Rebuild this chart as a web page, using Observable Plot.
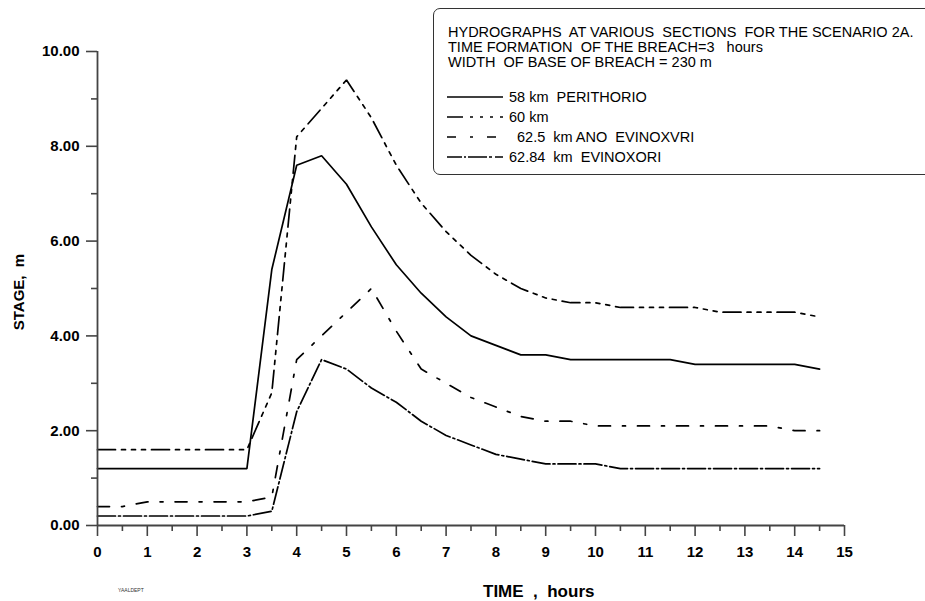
<!DOCTYPE html>
<html><head><meta charset="utf-8">
<script src="https://cdn.jsdelivr.net/npm/d3@7"></script>
<script src="https://cdn.jsdelivr.net/npm/@observablehq/plot@0.6"></script>
<style>
body{margin:0;background:#fff;overflow:hidden;font-family:"Liberation Sans",Arial,sans-serif;}
#wrap{position:relative;width:925px;height:601px;overflow:hidden;background:#fff;}
.t{position:absolute;white-space:pre;color:#000;line-height:1;}
.b{font-weight:bold;}
#box{position:absolute;left:433px;top:8px;width:520px;height:165px;border:1.5px solid #333;border-radius:7px;}
.smp{position:absolute;left:447px;width:56px;height:10px;}
</style></head><body><div id="wrap"></div>
<script>
// ---- data ----
const hours = [0,0.5,1,1.5,2,2.5,3,3.5,4,4.5,5,5.5,6,6.5,7,7.5,8,8.5,9,9.5,10,10.5,11,11.5,12,12.5,13,13.5,14,14.5];
const stage58 = [1.2,1.2,1.2,1.2,1.2,1.2,1.2,5.4,7.6,7.8,7.2,6.3,5.5,4.9,4.4,4.0,3.8,3.6,3.6,3.5,3.5,3.5,3.5,3.5,3.4,3.4,3.4,3.4,3.4,3.3];
const stage60 = [1.6,1.6,1.6,1.6,1.6,1.6,1.6,2.8,8.2,8.8,9.4,8.6,7.6,6.8,6.2,5.7,5.3,5.0,4.8,4.7,4.7,4.6,4.6,4.6,4.6,4.5,4.5,4.5,4.5,4.4];
const stage625 = [0.4,0.4,0.5,0.5,0.5,0.5,0.5,0.6,3.5,4.0,4.5,5.0,4.1,3.3,3.0,2.7,2.5,2.3,2.2,2.2,2.1,2.1,2.1,2.1,2.1,2.1,2.1,2.1,2.0,2.0];
const stage6284 = [0.2,0.2,0.2,0.2,0.2,0.2,0.2,0.3,2.4,3.5,3.3,2.9,2.6,2.2,1.9,1.7,1.5,1.4,1.3,1.3,1.3,1.2,1.2,1.2,1.2,1.2,1.2,1.2,1.2,1.2];
const seriesNames = ["58 km  PERITHORIO","60 km","62.5  km ANO  EVINOXVRI","62.84  km  EVINOXORI"];
const yTicks = [0,2,4,6,8,10];
const yMinor = [1,3,5,7,9];
const xTicks = [0,1,2,3,4,5,6,7,8,9,10,11,12,13,14,15];
const xMinor = [0.5,1.5,2.5,3.5,4.5,5.5,6.5,7.5,8.5,9.5,10.5,11.5,12.5,13.5,14.5];
const titleLines = ["HYDROGRAPHS  AT VARIOUS  SECTIONS  FOR THE SCENARIO 2A.","TIME FORMATION  OF THE BREACH=3   hours","WIDTH  OF BASE OF BREACH = 230 m"];
const xTitle = "TIME  ,  hours";
const yTitle = "STAGE,  m";
const footNote = "YAALDEPT";

// ---- styles ----
const dashes = ["none", "18,6,4,6,4,6,4,6", "12,12,3,12", "18,3,2,3"];
const legendDashes = ["none", "16,7,3,7,3,7,3,7", "9,14,3,14", "15,2,2,2,19,2,3,3"];
const axisColor = "#444";

const allSeries = [stage58, stage60, stage625, stage6284];
const rows = [];
allSeries.forEach((vals, si) => vals.forEach((v, i) => rows.push({series: seriesNames[si], time: hours[i], stage: v})));

const chart = Plot.plot({
  width: 925, height: 601,
  marginTop: 51, marginRight: 81, marginBottom: 76, marginLeft: 97,
  style: {background: "white", fontFamily: "Liberation Sans, Arial, sans-serif", color: "black", overflow: "visible"},
  x: {domain: [0, 15], label: null},
  y: {domain: [0, 10], label: null},
  marks: [
    ...seriesNames.map((name, si) => Plot.line(rows.filter(r => r.series === name), {
      x: "time", y: "stage", stroke: "black", strokeWidth: 1.7,
      strokeDasharray: dashes[si], strokeLinejoin: "miter"
    })),
    Plot.ruleY([0], {stroke: axisColor, strokeWidth: 1.8}),
    Plot.ruleX([0], {stroke: axisColor, strokeWidth: 1.8}),
    Plot.axisY(yTicks, {tickSize: 11, tickPadding: 7, tickFormat: d => d.toFixed(2), stroke: axisColor, strokeWidth: 1.6, fill: "black", fontSize: 15, fontWeight: "bold", label: null}),
    Plot.axisY(yMinor, {tickSize: 6, tickFormat: () => "", stroke: axisColor, strokeWidth: 1.6, label: null}),
    Plot.axisX(xTicks, {tickSize: 11, tickPadding: 10, tickFormat: d => String(d), stroke: axisColor, strokeWidth: 1.6, fill: "black", fontSize: 15, fontWeight: "bold", label: null}),
    Plot.axisX(xMinor, {tickSize: 6, tickFormat: () => "", stroke: axisColor, strokeWidth: 1.6, label: null})
  ]
});

const wrap = document.getElementById("wrap");
wrap.appendChild(chart);

function addText(txt, left, top, size, bold, extra) {
  const d = document.createElement("div");
  d.className = "t" + (bold ? " b" : "");
  d.textContent = txt;
  d.style.left = left + "px"; d.style.top = top + "px"; d.style.fontSize = size + "px";
  if (extra) Object.assign(d.style, extra);
  wrap.appendChild(d);
  return d;
}

// legend box
const box = document.createElement("div"); box.id = "box"; wrap.appendChild(box);
titleLines.forEach((line, i) => addText(line, 448, 24.7 + 15 * i, 14.5, false));
const entryLeft = [509, 509, 517, 509];
seriesNames.forEach((name, i) => {
  const cy = 97 + 20 * i;
  addText(name, entryLeft[i], cy + 5 - 12.3, 14.5, false);
  const ns = "http://www.w3.org/2000/svg";
  const s = document.createElementNS(ns, "svg");
  s.setAttribute("class", "smp"); s.setAttribute("width", 56); s.setAttribute("height", 10);
  s.style.top = (cy - 5) + "px";
  const l = document.createElementNS(ns, "line");
  l.setAttribute("x1", 0); l.setAttribute("x2", 56); l.setAttribute("y1", 5); l.setAttribute("y2", 5);
  l.setAttribute("stroke", "black"); l.setAttribute("stroke-width", 1.7);
  if (legendDashes[i] !== "none") l.setAttribute("stroke-dasharray", legendDashes[i]);
  s.appendChild(l); wrap.appendChild(s);
});

// axis titles
addText(xTitle, 483, 582.6, 17, true);
addText(yTitle, 17.5, 292, 15, true, {transform: "translate(-50%,-50%) rotate(-90deg)"});
addText(footNote, 118, 588, 5, false, {color: "#333"});
</script>
</body></html>
